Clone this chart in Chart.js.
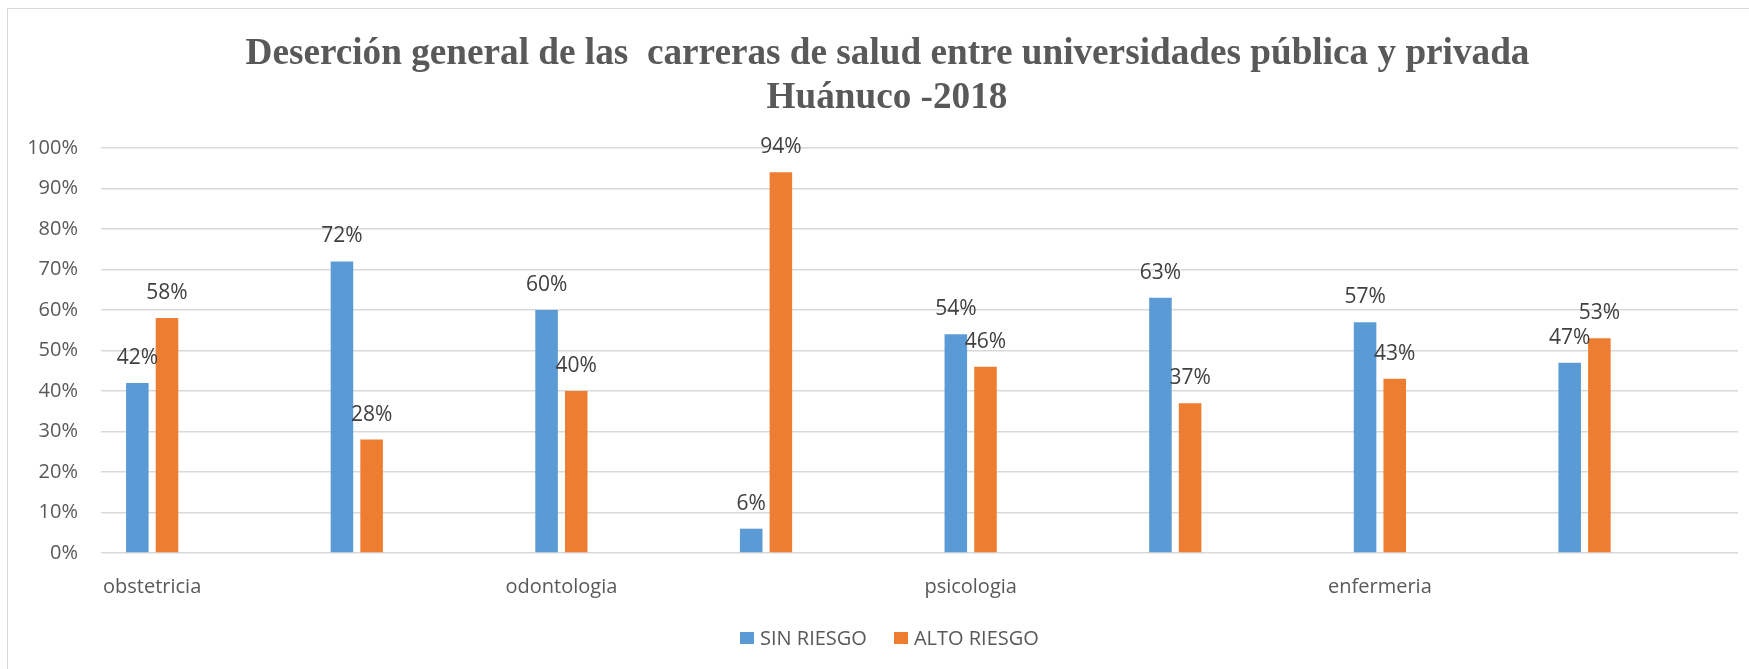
<!DOCTYPE html>
<html>
<head>
<meta charset="utf-8">
<script src="https://cdn.jsdelivr.net/npm/chart.js@4.4.0/dist/chart.umd.min.js"></script>
<style>
    html, body { margin: 0; padding: 0; background: #fff; overflow: hidden; }
    #wrap { position: relative; width: 1749px; height: 669px; overflow: hidden; }
    #frame { position: absolute; left: 7px; top: 8px; width: 1800px; height: 700px;
             border: 1.5px solid #d9d9d9; box-sizing: border-box; }
    #myChart { position: absolute; left: 0; top: 0; }
    .title { position: absolute; left: 0; width: 1774px; text-align: center;
             font-family: "Liberation Serif", "Times New Roman", serif; font-weight: bold;
             font-size: 38px; line-height: 45px; color: #595959; }
    .title span { display: inline-block; white-space: pre; transform-origin: 50% 50%; }
    #legend { position: absolute; top: 624px; left: 740px; display: flex; align-items: center;
              font-family: "Open Sans", sans-serif; font-size: 20px; color: #595959; }
    .box { width: 14px; height: 12px; margin-right: 6px; }
    .item { display: flex; align-items: center; margin-right: 27px; }
</style>
</head>
<body>
<div id="wrap">
    <div id="frame"></div>
    <canvas id="myChart" width="1749" height="669"></canvas>
    <div class="title" style="top:29px"><span id="t1">Deserción general de las  carreras de salud entre universidades pública y privada</span></div>
    <div class="title" style="top:73px"><span id="t2">Huánuco -2018</span></div>
    <div id="legend">
        <div class="item"><div class="box" style="background:#5b9bd5"></div>SIN RIESGO</div>
        <div class="item"><div class="box" style="background:#ed7d31"></div>ALTO RIESGO</div>
    </div>
</div>
<script>
// careers shown on the axis, two bar groups per career
const carreras = ["obstetricia", "odontologia", "psicologia", "enfermeria"];
const sinRiesgo = [42, 72, 60, 6, 54, 63, 57, 47];
const altoRiesgo = [58, 28, 40, 94, 46, 37, 43, 53];
const yTicks = [0, 10, 20, 30, 40, 50, 60, 70, 80, 90, 100];

// each group sits in its own slot followed by an empty one (like the sheet)
let labels = [];
let blueData = [];
let orangeData = [];
for (let i = 0; i < sinRiesgo.length; i++) {
    labels.push(i % 2 === 0 ? carreras[i / 2] : "");
    labels.push("");
    blueData.push(sinRiesgo[i], null);
    orangeData.push(altoRiesgo[i], null);
}

// squeeze the title to the width it has in the picture
let t1 = document.getElementById("t1");
let sx = 1284 / t1.offsetWidth;
t1.style.transform = "scaleX(" + sx + ")";
document.getElementById("t2").style.transform = "scaleX(" + sx + ")";

const barLabels = {
    id: "barLabels",
    afterDatasetsDraw(chart) {
        const c = chart.ctx;
        c.save();
        c.font = '21px "Open Sans"';
        c.fillStyle = "#404040";
        c.textAlign = "center";
        c.textBaseline = "middle";
        chart.data.datasets.forEach((ds, di) => {
            chart.getDatasetMeta(di).data.forEach((bar, i) => {
                if (ds.data[i] == null) return;
                c.fillText(ds.data[i] + "%", bar.x, bar.y - 25);
            });
        });
        c.restore();
    }
};

let ctx = document.getElementById("myChart");
let myChart = new Chart(ctx, {
    type: "bar",
    data: {
        labels: labels,
        datasets: [{
            label: "SIN RIESGO",
            data: blueData,
            backgroundColor: "#5b9bd5"
        }, {
            label: "ALTO RIESGO",
            data: orangeData,
            backgroundColor: "#ed7d31"
        }]
    },
    options: {
        responsive: false,
        animation: false,
        categoryPercentage: 0.58,
        barPercentage: 0.76,
        layout: { padding: { top: 148, right: 11, left: 0, bottom: 0 } },
        plugins: {
            legend: { display: false },
            tooltip: { enabled: false }
        },
        scales: {
            x: {
                grid: { display: false, drawTicks: false },
                border: { display: false },
                ticks: {
                    autoSkip: false, maxRotation: 0, padding: 22,
                    color: "#595959", font: { family: "Open Sans", size: 20 }
                },
                afterFit: function (scale) { scale.height = 116; }
            },
            y: {
                min: 0, max: 100,
                afterBuildTicks: function (scale) {
                    scale.ticks = yTicks.map(v => ({ value: v }));
                },
                grid: { color: "#d9d9d9", lineWidth: 1.5, drawTicks: false },
                border: { display: false },
                ticks: {
                    padding: 23, color: "#595959",
                    font: { family: "Open Sans", size: 20 },
                    callback: v => v + "%"
                },
                afterFit: function (scale) { scale.width = 101; }
            }
        }
    },
    plugins: [barLabels]
});
</script>
</body>
</html>
